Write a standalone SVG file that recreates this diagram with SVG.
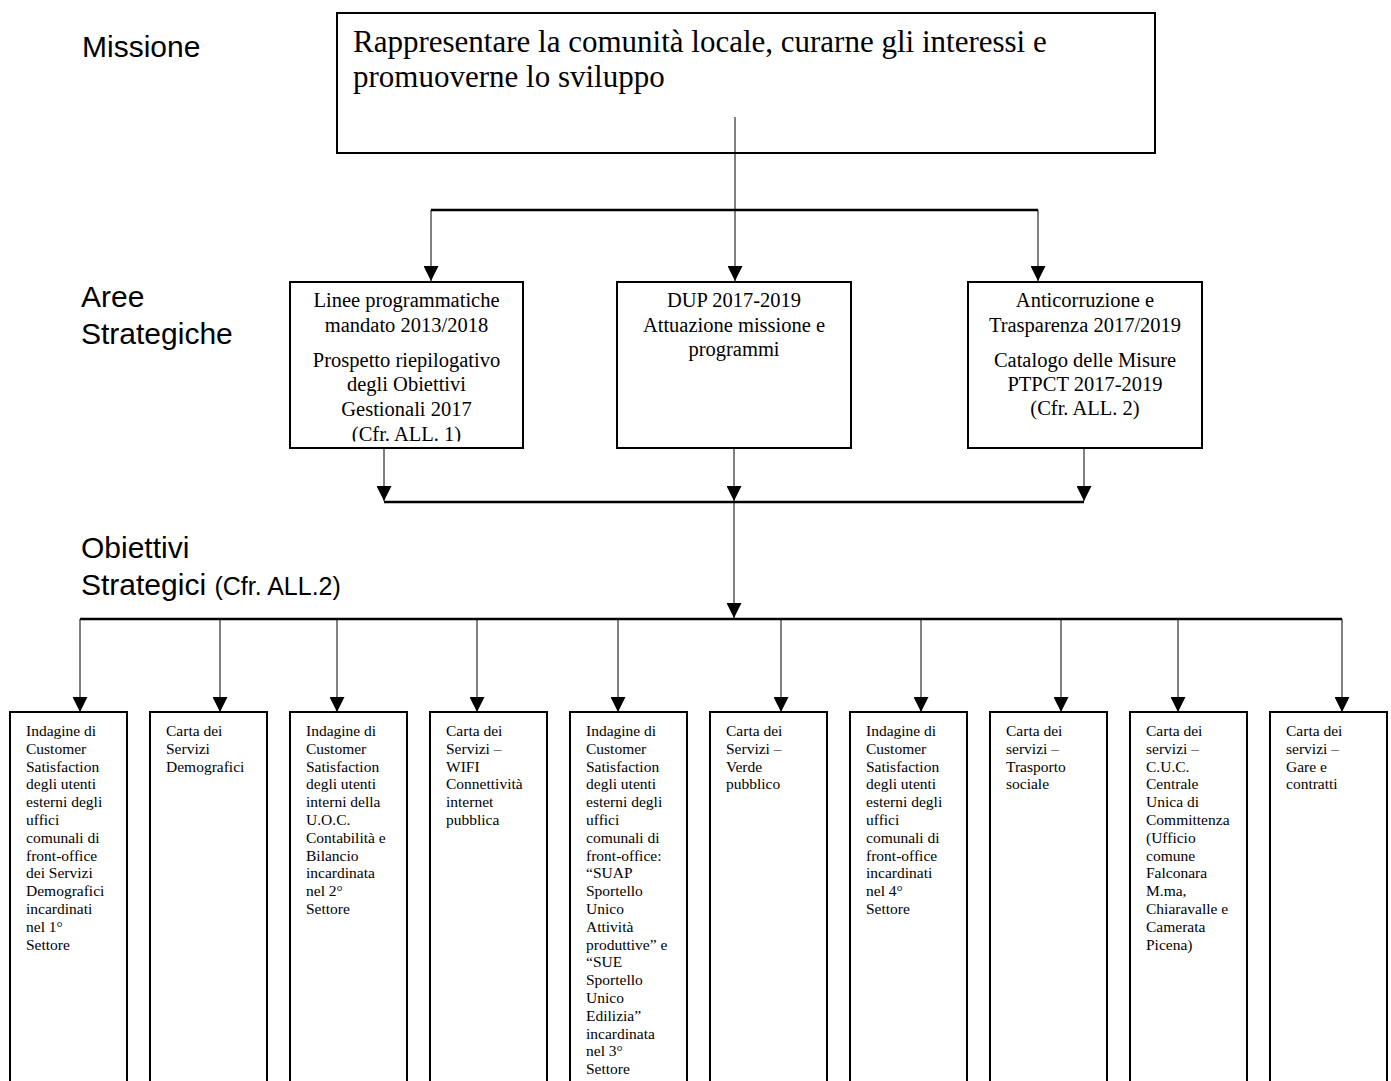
<svg xmlns="http://www.w3.org/2000/svg" width="1391" height="1081" viewBox="0 0 1391 1081">
<style>
.lbl{font-family:"Liberation Sans",Arial,sans-serif;font-size:30px;fill:#000}
.sm{font-size:25px}
.box{fill:#fff;stroke:#000;stroke-width:2}
.mt{font-family:"Liberation Serif","Times New Roman",serif;font-size:31px;fill:#000}
.at{font-family:"Liberation Serif","Times New Roman",serif;font-size:20.5px;fill:#000;text-anchor:middle}
.bt{font-family:"Liberation Serif","Times New Roman",serif;font-size:15.5px;fill:#000}
.ln{stroke:#000;stroke-width:1;fill:none}
.bar{stroke:#000;stroke-width:2.5;fill:none}
</style>
<defs>
<marker id="ah" markerUnits="userSpaceOnUse" markerWidth="15" markerHeight="15" refX="15" refY="7.5" orient="auto">
<path d="M0,0 L15,7.5 L0,15 z" fill="#000"/>
</marker>
<clipPath id="c1"><rect x="291" y="283" width="231" height="158.5"/></clipPath>
</defs>
<rect width="1391" height="1081" fill="#fff"/>

<g id="labels">
<text class="lbl" x="82" y="57">Missione</text>
<text class="lbl" x="81" y="307">Aree</text>
<text class="lbl" x="81" y="344">Strategiche</text>
<text class="lbl" x="81" y="558">Obiettivi</text>
<text class="lbl" x="81" y="595">Strategici <tspan class="sm">(Cfr. ALL.2)</tspan></text>
</g>

<g id="missione">
<rect class="box" x="337" y="13" width="818" height="140"/>
<text class="mt" x="353" y="52">Rappresentare la comunità locale, curarne gli interessi e</text>
<text class="mt" x="353" y="87">promuoverne lo sviluppo</text>
</g>

<g id="connectors">
<line class="ln" x1="735" y1="117" x2="735" y2="281" marker-end="url(#ah)"/>
<line class="bar" x1="431" y1="210" x2="1038" y2="210"/>
<line class="ln" x1="431" y1="210" x2="431" y2="281" marker-end="url(#ah)"/>
<line class="ln" x1="1038" y1="210" x2="1038" y2="281" marker-end="url(#ah)"/>
<line class="ln" x1="384" y1="448" x2="384" y2="501" marker-end="url(#ah)"/>
<line class="ln" x1="734" y1="448" x2="734" y2="501" marker-end="url(#ah)"/>
<line class="ln" x1="1084" y1="448" x2="1084" y2="501" marker-end="url(#ah)"/>
<line class="bar" x1="384" y1="502" x2="1084" y2="502"/>
<line class="ln" x1="734" y1="502" x2="734" y2="618" marker-end="url(#ah)"/>
<line class="bar" x1="80" y1="619" x2="1342" y2="619"/>
<line class="ln" x1="80" y1="619" x2="80" y2="712" marker-end="url(#ah)"/>
<line class="ln" x1="220" y1="619" x2="220" y2="712" marker-end="url(#ah)"/>
<line class="ln" x1="337" y1="619" x2="337" y2="712" marker-end="url(#ah)"/>
<line class="ln" x1="477" y1="619" x2="477" y2="712" marker-end="url(#ah)"/>
<line class="ln" x1="618" y1="619" x2="618" y2="712" marker-end="url(#ah)"/>
<line class="ln" x1="781" y1="619" x2="781" y2="712" marker-end="url(#ah)"/>
<line class="ln" x1="921" y1="619" x2="921" y2="712" marker-end="url(#ah)"/>
<line class="ln" x1="1061" y1="619" x2="1061" y2="712" marker-end="url(#ah)"/>
<line class="ln" x1="1178" y1="619" x2="1178" y2="712" marker-end="url(#ah)"/>
<line class="ln" x1="1342" y1="619" x2="1342" y2="712" marker-end="url(#ah)"/>
</g>

<g id="area1">
<rect class="box" x="290" y="282" width="233" height="166"/>
<g clip-path="url(#c1)">
<text class="at" x="406.5" y="307">Linee programmatiche</text>
<text class="at" x="406.5" y="332">mandato 2013/2018</text>
<text class="at" x="406.5" y="367">Prospetto riepilogativo</text>
<text class="at" x="406.5" y="391">degli Obiettivi</text>
<text class="at" x="406.5" y="416">Gestionali 2017</text>
<text class="at" x="406.5" y="441">(Cfr. ALL. 1)</text>
</g>
</g>
<g id="area2">
<rect class="box" x="617" y="282" width="234" height="166"/>
<text class="at" x="734" y="307">DUP 2017-2019</text>
<text class="at" x="734" y="332">Attuazione missione e</text>
<text class="at" x="734" y="356">programmi</text>
</g>
<g id="area3">
<rect class="box" x="968" y="282" width="234" height="166"/>
<text class="at" x="1085" y="307">Anticorruzione e</text>
<text class="at" x="1085" y="332">Trasparenza 2017/2019</text>
<text class="at" x="1085" y="367">Catalogo delle Misure</text>
<text class="at" x="1085" y="391">PTPCT 2017-2019</text>
<text class="at" x="1085" y="415">(Cfr. ALL. 2)</text>
</g>

<g id="ob1">
<rect class="box" x="10" y="712" width="117" height="400"/>
<text class="bt" y="736"><tspan x="26">Indagine di</tspan><tspan x="26" dy="17.8">Customer</tspan><tspan x="26" dy="17.8">Satisfaction</tspan><tspan x="26" dy="17.8">degli utenti</tspan><tspan x="26" dy="17.8">esterni degli</tspan><tspan x="26" dy="17.8">uffici</tspan><tspan x="26" dy="17.8">comunali di</tspan><tspan x="26" dy="17.8">front-office</tspan><tspan x="26" dy="17.8">dei Servizi</tspan><tspan x="26" dy="17.8">Demografici</tspan><tspan x="26" dy="17.8">incardinati</tspan><tspan x="26" dy="17.8">nel 1°</tspan><tspan x="26" dy="17.8">Settore</tspan></text>
</g>
<g id="ob2">
<rect class="box" x="150" y="712" width="117" height="400"/>
<text class="bt" y="736"><tspan x="166">Carta dei</tspan><tspan x="166" dy="17.8">Servizi</tspan><tspan x="166" dy="17.8">Demografici</tspan></text>
</g>
<g id="ob3">
<rect class="box" x="290" y="712" width="117" height="400"/>
<text class="bt" y="736"><tspan x="306">Indagine di</tspan><tspan x="306" dy="17.8">Customer</tspan><tspan x="306" dy="17.8">Satisfaction</tspan><tspan x="306" dy="17.8">degli utenti</tspan><tspan x="306" dy="17.8">interni della</tspan><tspan x="306" dy="17.8">U.O.C.</tspan><tspan x="306" dy="17.8">Contabilità e</tspan><tspan x="306" dy="17.8">Bilancio</tspan><tspan x="306" dy="17.8">incardinata</tspan><tspan x="306" dy="17.8">nel 2°</tspan><tspan x="306" dy="17.8">Settore</tspan></text>
</g>
<g id="ob4">
<rect class="box" x="430" y="712" width="117" height="400"/>
<text class="bt" y="736"><tspan x="446">Carta dei</tspan><tspan x="446" dy="17.8">Servizi –</tspan><tspan x="446" dy="17.8">WIFI</tspan><tspan x="446" dy="17.8">Connettività</tspan><tspan x="446" dy="17.8">internet</tspan><tspan x="446" dy="17.8">pubblica</tspan></text>
</g>
<g id="ob5">
<rect class="box" x="570" y="712" width="117" height="400"/>
<text class="bt" y="736"><tspan x="586">Indagine di</tspan><tspan x="586" dy="17.8">Customer</tspan><tspan x="586" dy="17.8">Satisfaction</tspan><tspan x="586" dy="17.8">degli utenti</tspan><tspan x="586" dy="17.8">esterni degli</tspan><tspan x="586" dy="17.8">uffici</tspan><tspan x="586" dy="17.8">comunali di</tspan><tspan x="586" dy="17.8">front-office:</tspan><tspan x="586" dy="17.8">“SUAP</tspan><tspan x="586" dy="17.8">Sportello</tspan><tspan x="586" dy="17.8">Unico</tspan><tspan x="586" dy="17.8">Attività</tspan><tspan x="586" dy="17.8">produttive” e</tspan><tspan x="586" dy="17.8">“SUE</tspan><tspan x="586" dy="17.8">Sportello</tspan><tspan x="586" dy="17.8">Unico</tspan><tspan x="586" dy="17.8">Edilizia”</tspan><tspan x="586" dy="17.8">incardinata</tspan><tspan x="586" dy="17.8">nel 3°</tspan><tspan x="586" dy="17.8">Settore</tspan></text>
</g>
<g id="ob6">
<rect class="box" x="710" y="712" width="117" height="400"/>
<text class="bt" y="736"><tspan x="726">Carta dei</tspan><tspan x="726" dy="17.8">Servizi –</tspan><tspan x="726" dy="17.8">Verde</tspan><tspan x="726" dy="17.8">pubblico</tspan></text>
</g>
<g id="ob7">
<rect class="box" x="850" y="712" width="117" height="400"/>
<text class="bt" y="736"><tspan x="866">Indagine di</tspan><tspan x="866" dy="17.8">Customer</tspan><tspan x="866" dy="17.8">Satisfaction</tspan><tspan x="866" dy="17.8">degli utenti</tspan><tspan x="866" dy="17.8">esterni degli</tspan><tspan x="866" dy="17.8">uffici</tspan><tspan x="866" dy="17.8">comunali di</tspan><tspan x="866" dy="17.8">front-office</tspan><tspan x="866" dy="17.8">incardinati</tspan><tspan x="866" dy="17.8">nel 4°</tspan><tspan x="866" dy="17.8">Settore</tspan></text>
</g>
<g id="ob8">
<rect class="box" x="990" y="712" width="117" height="400"/>
<text class="bt" y="736"><tspan x="1006">Carta dei</tspan><tspan x="1006" dy="17.8">servizi –</tspan><tspan x="1006" dy="17.8">Trasporto</tspan><tspan x="1006" dy="17.8">sociale</tspan></text>
</g>
<g id="ob9">
<rect class="box" x="1130" y="712" width="117" height="400"/>
<text class="bt" y="736"><tspan x="1146">Carta dei</tspan><tspan x="1146" dy="17.8">servizi –</tspan><tspan x="1146" dy="17.8">C.U.C.</tspan><tspan x="1146" dy="17.8">Centrale</tspan><tspan x="1146" dy="17.8">Unica di</tspan><tspan x="1146" dy="17.8">Committenza</tspan><tspan x="1146" dy="17.8">(Ufficio</tspan><tspan x="1146" dy="17.8">comune</tspan><tspan x="1146" dy="17.8">Falconara</tspan><tspan x="1146" dy="17.8">M.ma,</tspan><tspan x="1146" dy="17.8">Chiaravalle e</tspan><tspan x="1146" dy="17.8">Camerata</tspan><tspan x="1146" dy="17.8">Picena)</tspan></text>
</g>
<g id="ob10">
<rect class="box" x="1270" y="712" width="117" height="400"/>
<text class="bt" y="736"><tspan x="1286">Carta dei</tspan><tspan x="1286" dy="17.8">servizi –</tspan><tspan x="1286" dy="17.8">Gare e</tspan><tspan x="1286" dy="17.8">contratti</tspan></text>
</g>
</svg>
